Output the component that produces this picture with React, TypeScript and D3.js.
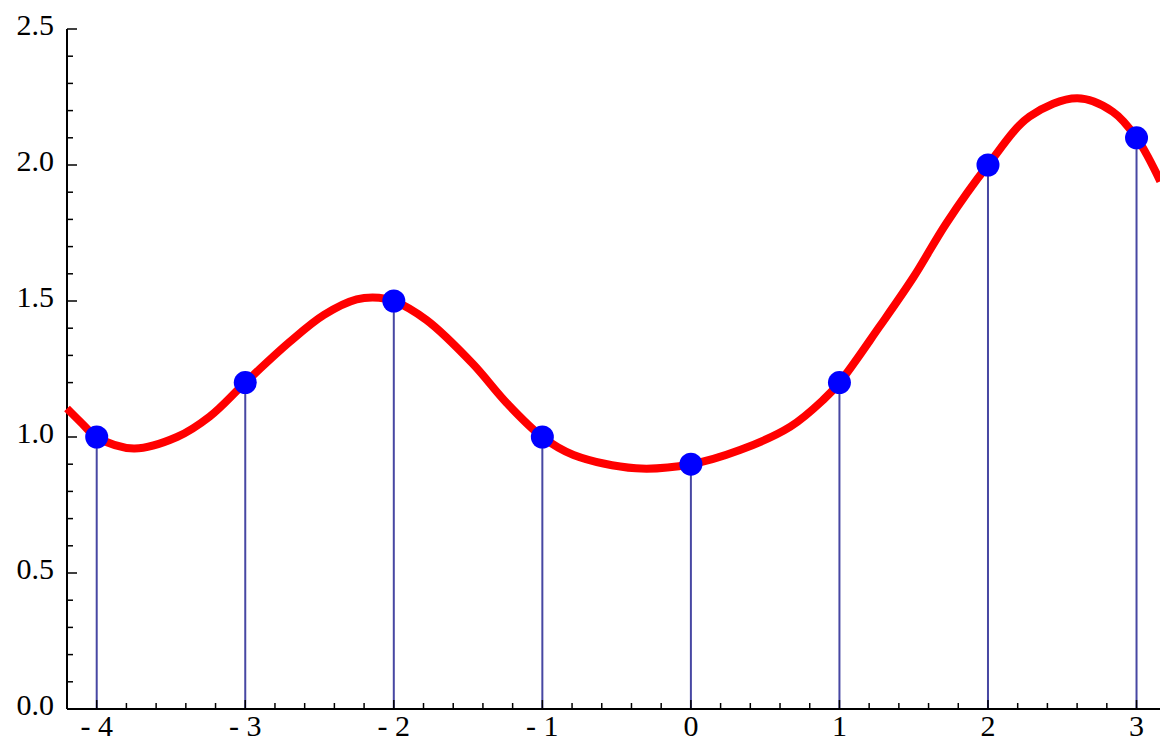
import { line, curveCatmullRom, range, scaleLinear } from "d3";
import React, { useMemo } from "react";

// data points (stems + dots)
const pointX = [-4, -3, -2, -1, 0, 1, 2, 3];
const pointY = [1.0, 1.2, 1.5, 1.0, 0.9, 1.2, 2.0, 2.1];

// red curve
const curveX = [
	-4.2, -4.11, -4, -3.75, -3.46, -3.24, -3, -2.7, -2.47, -2.25, -2.1, -2, -1.78,
	-1.47, -1.24, -1, -0.79, -0.37, 0, 0.33, 0.67, 0.89, 1, 1.27, 1.5, 1.72, 2,
	2.28, 2.6, 2.84, 3, 3.16,
];
const curveY = [
	1.105, 1.056, 1.0, 0.958, 1.0, 1.075, 1.2, 1.35, 1.449, 1.506, 1.512, 1.5,
	1.43, 1.27, 1.125, 1.0, 0.934, 0.885, 0.9, 0.952, 1.038, 1.136, 1.2, 1.406,
	1.589, 1.786, 2.0, 2.178, 2.245, 2.196, 2.1, 1.94,
];

const xTicks = [-4, -3, -2, -1, 0, 1, 2, 3];
const xTickLabels = ["- 4", "- 3", "- 2", "- 1", "0", "1", "2", "3"];
const yTicks = [0, 0.5, 1, 1.5, 2, 2.5];
const yTickLabels = ["0.0", "0.5", "1.0", "1.5", "2.0", "2.5"];

const W = 1160;
const H = 743;
const left = 67;
const bottom = 709;
const top = 29;

const labelStyle: React.CSSProperties = {
	fontFamily: '"Liberation Serif", "DejaVu Serif", serif',
	fontSize: "30px",
	whiteSpace: "pre",
};

const App: React.FC = () => {
	const xScale = useMemo(
		() => scaleLinear().domain([-4.2, 3.158]).range([left, W]),
		[],
	);
	const yScale = useMemo(
		() => scaleLinear().domain([0, 2.5]).range([bottom, top]),
		[],
	);

	const path = line<number>()
		.x((d) => xScale(d))
		.y((_, i) => yScale(curveY[i]))
		.curve(curveCatmullRom.alpha(0.5))(curveX);

	const xMinor = range(-4.2, 3.21, 0.2).filter(
		(v) => Math.abs(v - Math.round(v)) > 0.01,
	);
	const yMinor = range(0, 2.51, 0.1).filter(
		(v) => Math.abs(v * 2 - Math.round(v * 2)) > 0.01,
	);

	return (
		<svg
			width={W}
			height={H}
			style={{ position: "absolute", left: 0, top: 0, background: "#fff" }}>
			{/* stems */}
			{pointX.map((x, i) => (
				<line
					key={"s" + i}
					x1={xScale(x)}
					x2={xScale(x)}
					y1={yScale(0)}
					y2={yScale(pointY[i])}
					stroke="#4747a3"
					strokeWidth={2}
				/>
			))}
			{/* axes */}
			<g stroke="#000" fill="none">
				<line x1={left} x2={W} y1={bottom} y2={bottom} strokeWidth={2} />
				<line x1={left} x2={left} y1={top} y2={bottom} strokeWidth={2} />
				{xTicks.map((t, i) => (
					<line
						key={"xt" + i}
						x1={xScale(t)}
						x2={xScale(t)}
						y1={bottom}
						y2={bottom - 9}
						strokeWidth={1.5}
					/>
				))}
				{xMinor.map((t, i) => (
					<line
						key={"xm" + i}
						x1={xScale(t)}
						x2={xScale(t)}
						y1={bottom}
						y2={bottom - 6}
						strokeWidth={1.5}
					/>
				))}
				{yTicks.map((t, i) => (
					<line
						key={"yt" + i}
						x1={left}
						x2={left + 10}
						y1={yScale(t)}
						y2={yScale(t)}
						strokeWidth={1.5}
					/>
				))}
				{yMinor.map((t, i) => (
					<line
						key={"ym" + i}
						x1={left}
						x2={left + 6}
						y1={yScale(t)}
						y2={yScale(t)}
						strokeWidth={1.5}
					/>
				))}
			</g>
			{/* tick labels */}
			{xTicks.map((t, i) => (
				<text
					key={"xl" + i}
					x={xScale(t)}
					y={bottom + 27}
					textAnchor="middle"
					fill="#000"
					style={labelStyle}>
					{xTickLabels[i]}
				</text>
			))}
			{yTicks.map((t, i) => (
				<text
					key={"yl" + i}
					x={54}
					y={yScale(t) + 6}
					textAnchor="end"
					fill="#000"
					style={labelStyle}>
					{yTickLabels[i]}
				</text>
			))}
			{/* curve */}
			<path d={path || ""} fill="none" stroke="#ff0000" strokeWidth={8} />
			{/* points */}
			{pointX.map((x, i) => (
				<circle
					key={"p" + i}
					cx={xScale(x)}
					cy={yScale(pointY[i])}
					r={11.5}
					fill="#0000ff"
				/>
			))}
		</svg>
	);
};

export default App;
